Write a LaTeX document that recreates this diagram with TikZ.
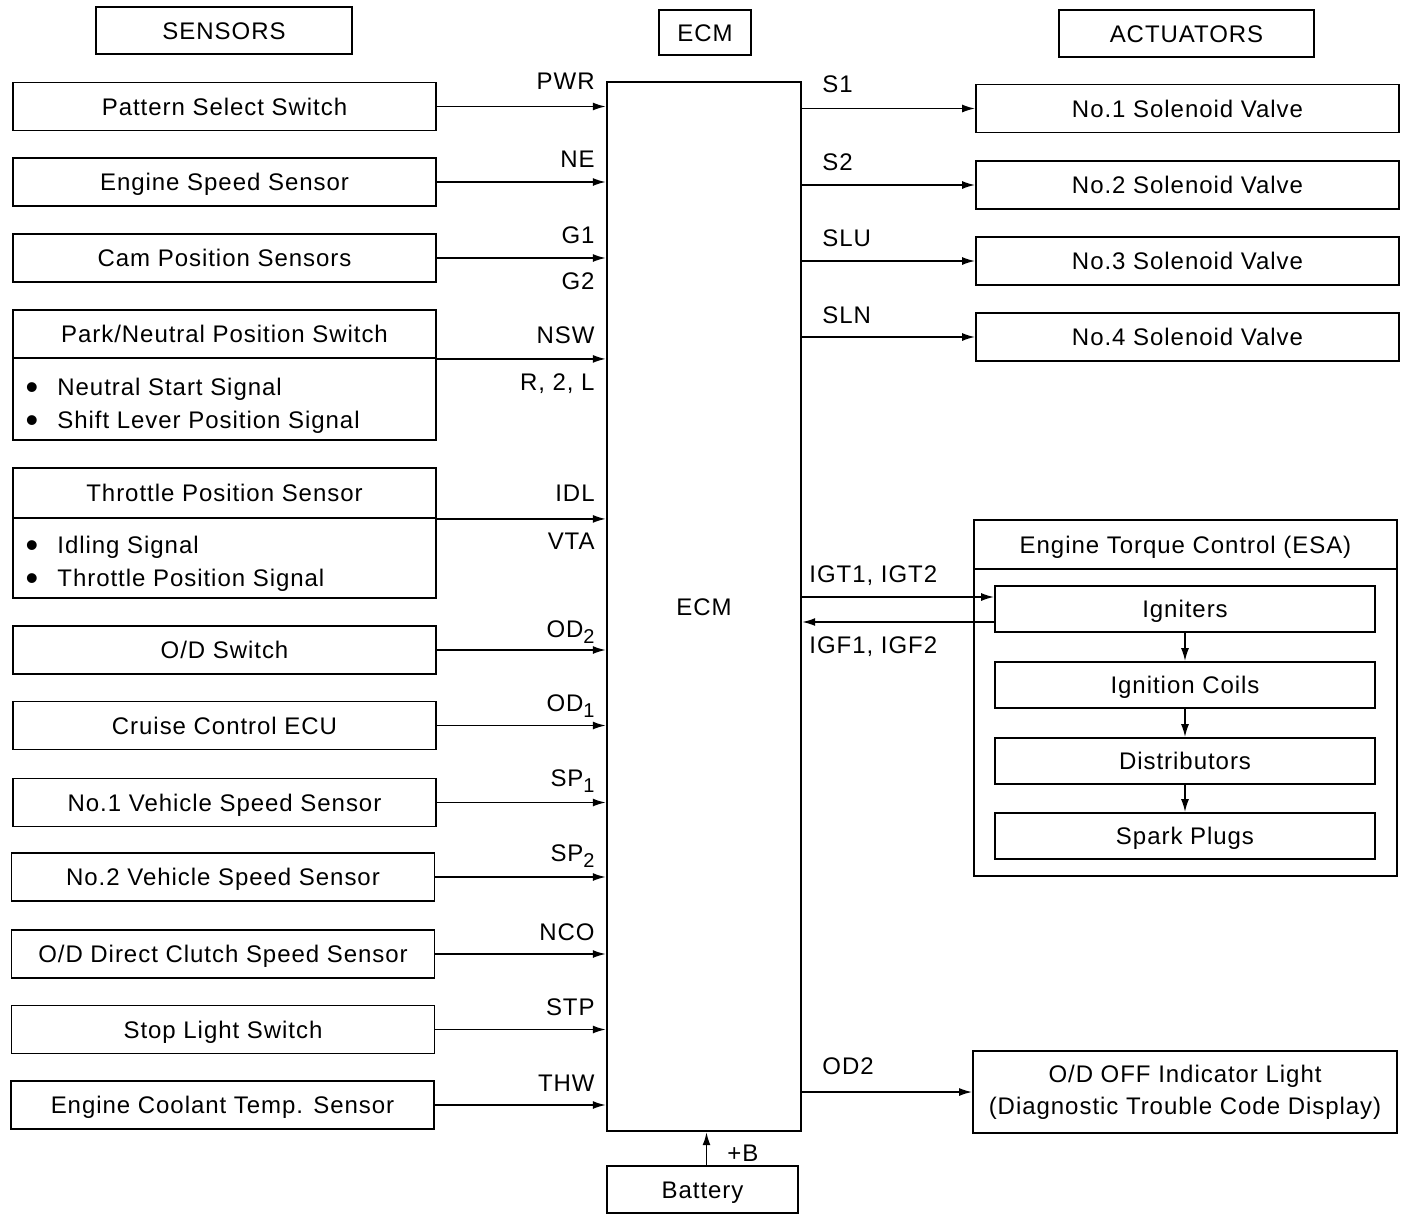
\documentclass[tikz,border=0pt]{standalone}
\usepackage{fontspec}
\setmainfont[LetterSpace=4]{Liberation Sans}
\usetikzlibrary{arrows.meta}
\newcommand{\lowsub}[1]{\raisebox{-3pt}{\fontsize{10}{10}\selectfont #1}}

\begin{document}
\begin{tikzpicture}[
    x=0.5pt,y=-0.5pt,
    every node/.style={font=\fontsize{12}{14}\selectfont},
    box/.style={draw,line width=0.9pt,inner sep=0pt,text height=9.3pt,text depth=0.7pt},
    sbox/.style={box,minimum width=211.5pt,minimum height=24pt},
    ibox/.style={box,minimum width=190pt,minimum height=23pt},
    lbl/.style={inner sep=0pt},
    dot/.style={inner sep=0pt,anchor=base,font=\fontsize{18}{18}\selectfont},
    arr/.style={line width=0.8pt,-{Latex[length=6.5pt,width=4pt]}}
]

\useasboundingbox (0,0) rectangle (1408,1222);

% headers
\node [box,minimum width=128pt,minimum height=23.5pt] (hsen) at (224,30.5) {SENSORS};
\node [box,minimum width=46pt,minimum height=22.5pt] (hecm) at (705,32.5) {ECM};
\node [box,minimum width=127.5pt,minimum height=23.5pt] (hact) at (1186.5,33.5) {ACTUATORS};

% ECM
\node [box,line width=1.2pt,minimum width=97pt,minimum height=524.5pt] (ecm) at (704,606.5) {ECM};

% sensors
\node [sbox] (pss) at (224.5,106.5) {Pattern Select Switch};
\node [sbox] (ess) at (224.5,182) {Engine Speed Sensor};
\node [sbox] (cps) at (224.5,258) {Cam Position Sensors};

\node [box,minimum width=211.5pt,minimum height=65pt] (pns) at (224.5,375) {};
\node [sbox] (pnsT) at (224.5,334) {Park/Neutral Position Switch};
\node [dot] (pnsD1) at (32,399) {•};
\node [lbl,anchor=base west] (pnsI1) at (57,395) {Neutral Start Signal};
\node [dot] (pnsD2) at (32,432) {•};
\node [lbl,anchor=base west] (pnsI2) at (57,428) {Shift Lever Position Signal};

\node [box,minimum width=211.5pt,minimum height=65pt] (tps) at (224.5,533) {};
\node [sbox,minimum height=25pt] (tpsT) at (224.5,493) {Throttle Position Sensor};
\node [dot] (tpsD1) at (32,557) {•};
\node [lbl,anchor=base west] (tpsI1) at (57,553) {Idling Signal};
\node [dot] (tpsD2) at (32,590) {•};
\node [lbl,anchor=base west] (tpsI2) at (57,586) {Throttle Position Signal};

\node [sbox] (ods) at (224.5,650) {O/D Switch};
\node [sbox] (cce) at (224.5,725.5) {Cruise Control ECU};
\node [sbox] (vss1) at (224.5,802.5) {No.1 Vehicle Speed Sensor};
\node [sbox] (vss2) at (223,877) {No.2 Vehicle Speed Sensor};
\node [sbox] (dcs) at (223,954) {O/D Direct Clutch Speed Sensor};
\node [sbox] (sls) at (223,1029.5) {Stop Light Switch};
\node [sbox] (ects) at (222.5,1105) {Engine Coolant Temp. Sensor};

\draw [arr] (pss.east) -- (pss.east -| ecm.west);
\draw [arr] (ess.east) -- (ess.east -| ecm.west);
\draw [arr] (cps.east) -- (cps.east -| ecm.west);
\draw [arr] (pnsT.south east) -- (pnsT.south east -| ecm.west);
\draw [arr] (tpsT.south east) -- (tpsT.south east -| ecm.west);
\draw [arr] (ods.east) -- (ods.east -| ecm.west);
\draw [arr] (cce.east) -- (cce.east -| ecm.west);
\draw [arr] (vss1.east) -- (vss1.east -| ecm.west);
\draw [arr] (vss2.east) -- (vss2.east -| ecm.west);
\draw [arr] (dcs.east) -- (dcs.east -| ecm.west);
\draw [arr] (sls.east) -- (sls.east -| ecm.west);
\draw [arr] (ects.east) -- (ects.east -| ecm.west);

\node [lbl,anchor=base east] (lpwr) at (595,89) {PWR};
\node [lbl,anchor=base east] (lne)  at (595,167) {NE};
\node [lbl,anchor=base east] (lg1)  at (595,243) {G1};
\node [lbl,anchor=base east] (lg2)  at (595,289) {G2};
\node [lbl,anchor=base east] (lnsw) at (595,343) {NSW};
\node [lbl,anchor=base east] (lr2l) at (595,390) {R, 2, L};
\node [lbl,anchor=base east] (lidl) at (595,501) {IDL};
\node [lbl,anchor=base east] (lvta) at (595,549) {VTA};
\node [lbl,anchor=base east] (lod2) at (595,637) {OD\lowsub{2}};
\node [lbl,anchor=base east] (lod1) at (595,711) {OD\lowsub{1}};
\node [lbl,anchor=base east] (lsp1) at (595,786) {SP\lowsub{1}};
\node [lbl,anchor=base east] (lsp2) at (595,861) {SP\lowsub{2}};
\node [lbl,anchor=base east] (lnco) at (595,940) {NCO};
\node [lbl,anchor=base east] (lstp) at (595,1015) {STP};
\node [lbl,anchor=base east] (lthw) at (595,1091) {THW};

% actuators
\node [sbox] (sv1) at (1187.5,108.5) {No.1 Solenoid Valve};
\node [sbox] (sv2) at (1187.5,185) {No.2 Solenoid Valve};
\node [sbox] (sv3) at (1187.5,261) {No.3 Solenoid Valve};
\node [sbox] (sv4) at (1187.5,337) {No.4 Solenoid Valve};

\draw [arr] (sv1.west -| ecm.east) -- (sv1.west);
\draw [arr] (sv2.west -| ecm.east) -- (sv2.west);
\draw [arr] (sv3.west -| ecm.east) -- (sv3.west);
\draw [arr] (sv4.west -| ecm.east) -- (sv4.west);

\node [lbl,anchor=base west] (ls1)  at (822,92) {S1};
\node [lbl,anchor=base west] (ls2)  at (822,170) {S2};
\node [lbl,anchor=base west] (lslu) at (822,246) {SLU};
\node [lbl,anchor=base west] (lsln) at (822,323) {SLN};

% engine torque control
\node [box,minimum width=211.5pt,minimum height=178pt] (esa) at (1185.5,698) {};
\node [sbox,minimum height=24.5pt] (esaT) at (1185.5,544.5) {Engine Torque Control (ESA)};
\node [ibox] (ign)  at (1185,609) {Igniters};
\node [ibox] (coil) at (1185,685) {Ignition Coils};
\node [ibox] (dist) at (1185,761) {Distributors};
\node [ibox] (spk)  at (1185,836) {Spark Plugs};

\draw [arr] (ign) -- (coil);
\draw [arr] (coil) -- (dist);
\draw [arr] (dist) -- (spk);

\coordinate (igt) at ([yshift=6pt]ign.west);
\coordinate (igf) at ([yshift=-6.5pt]ign.west);
\draw [arr] (igt -| ecm.east) -- (igt);
\draw [arr] (igf) -- (igf -| ecm.east);

\node [lbl,anchor=base west] (ligt) at (809,582) {IGT1, IGT2};
\node [lbl,anchor=base west] (ligf) at (809,653) {IGF1, IGF2};

% indicator light
\node [box,minimum width=212pt,minimum height=41pt,align=center,text height=,text depth=,
    font=\fontsize{12}{16}\selectfont] (odl) at (1185,1092)
    {O/D OFF Indicator Light\\(Diagnostic Trouble Code Display)};
\draw [arr] (odl.west -| ecm.east) -- (odl.west);
\node [lbl,anchor=base west] (lodl) at (822,1074) {OD2};

% battery
\node [box,minimum width=95.5pt,minimum height=23.5pt] (bat) at (702.5,1189.5) {Battery};
\draw [arr] ([xshift=2pt]bat.north) -- ([xshift=2pt]bat.north |- ecm.south);
\node [lbl,anchor=base west] (lplb) at (727,1161) {+B};

\end{tikzpicture}
\end{document}
